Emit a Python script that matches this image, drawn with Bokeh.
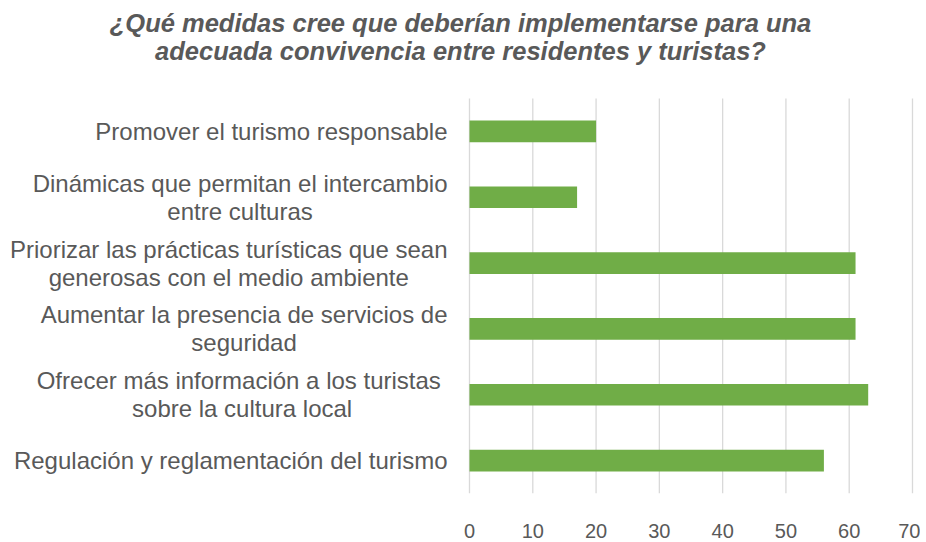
from bokeh.plotting import figure
from bokeh.models import Range1d, FixedTicker
from bokeh.core.properties import value
from bokeh.embed import file_html
from bokeh.resources import INLINE

# ---- data (bottom-to-top order) ----
categories = [
    "Regulación y reglamentación del turismo",
    "Ofrecer más información  a los turistas\nsobre la cultura local",
    "Aumentar la presencia de servicios de\nseguridad",
    "Priorizar las prácticas turísticas que sean\ngenerosas con el medio ambiente",
    "Dinámicas que permitan el intercambio\nentre culturas",
    "Promover el turismo responsable",
]
values = [56, 63, 61, 61, 17, 20]
x_ticks = [0, 10, 20, 30, 40, 50, 60, 70]
title_text = ("¿Qué medidas cree que deberían implementarse para una\n"
              "adecuada convivencia entre residentes y turistas?")

# ---- layout (pixels) ----
W, H = 920, 540
FRAME_L, FRAME_R = 0, 914           # frame spans label + title area
FRAME_B = 498                       # bottom of the bar area (from top)
ROWS_TOP = 99                       # top of the bar area
ZERO_PX, MAX_PX = 469, 912          # where 0 and 70 fall
LABEL_RIGHT_PX = 447                # right edge of the category labels
TITLE_CX, TITLE_TOP = 460, 9

n = len(categories)
sx = (MAX_PX - ZERO_PX) / x_ticks[-1]
row_px = (FRAME_B - ROWS_TOP) / n
x_start = -(ZERO_PX - FRAME_L) / sx
x_end = x_ticks[-1] + (FRAME_R - MAX_PX) / sx
y_end = n + ROWS_TOP / row_px
y_pos = [i + 0.5 for i in range(n)]

p = figure(width=W, height=H, output_backend="svg", toolbar_location=None,
           x_range=Range1d(x_start, x_end), y_range=Range1d(0, y_end),
           y_axis_location=None,
           min_border_left=FRAME_L, min_border_right=W - FRAME_R,
           min_border_top=0, min_border_bottom=H - FRAME_B)
p.outline_line_color = None
p.grid.visible = False

# vertical grid lines over the bar area only
p.segment(x0=x_ticks, x1=x_ticks, y0=[0] * len(x_ticks), y1=[n] * len(x_ticks),
          line_color="#D9D9D9", line_width=1.3)

p.hbar(y=y_pos, right=values, left=0, height=0.33, fill_color="#70AD47",
       line_color=None)

p.text(x=[(LABEL_RIGHT_PX - ZERO_PX) / sx] * n, y=y_pos, text=categories,
       anchor="center_right", text_align="center", text_baseline="middle",
       text_font=value("Liberation Sans"), text_font_size="24px",
       text_color="#595959", text_line_height=1.04)

p.text(x=[(TITLE_CX - ZERO_PX) / sx], y=[(FRAME_B - TITLE_TOP) / row_px],
       text=[title_text], anchor="top_center", text_align="center",
       text_font=value("Liberation Sans"), text_font_style="bold italic",
       text_font_size="25.5px", text_color="#595959", text_line_height=1.0)

p.xaxis.ticker = FixedTicker(ticks=x_ticks)
ax = p.xaxis[0]
ax.axis_line_color = None
ax.major_tick_line_color = None
ax.minor_tick_line_color = None
ax.major_label_text_font = "Liberation Sans"
ax.major_label_text_color = "#595959"
ax.major_label_text_font_size = "20px"
ax.major_label_standoff = 24

open("out.html", "w").write(file_html(p, INLINE))
